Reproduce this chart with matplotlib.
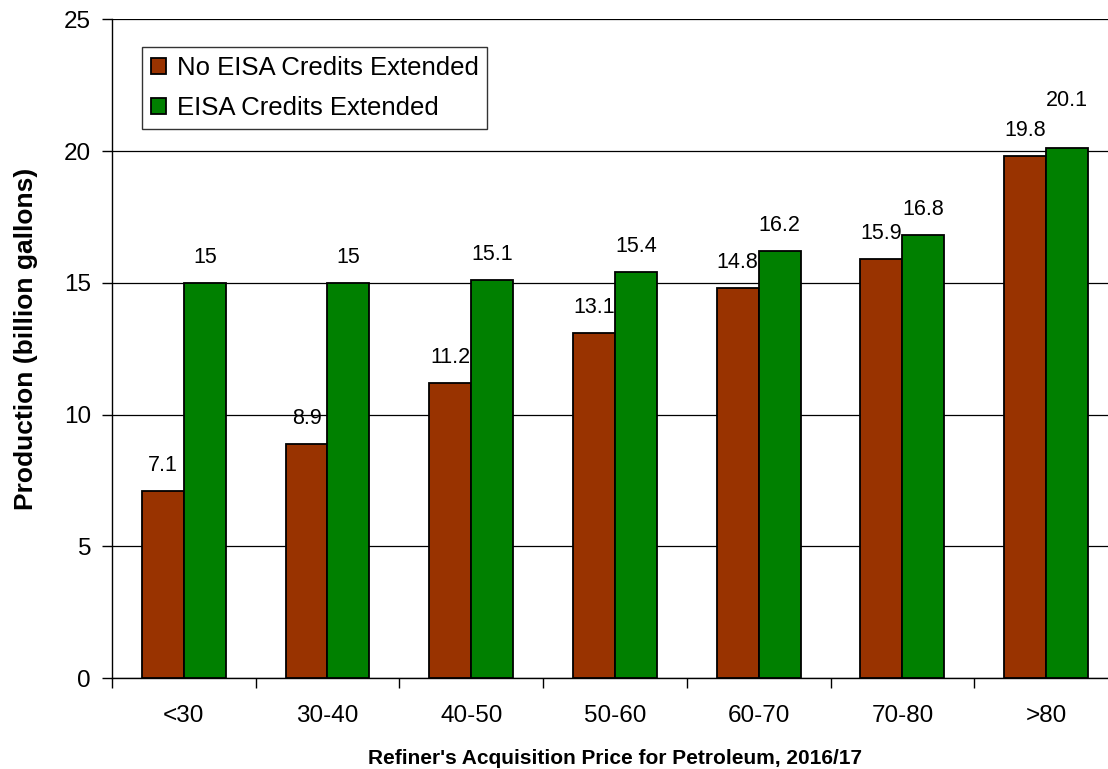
import matplotlib
matplotlib.use("Agg")
import matplotlib.pyplot as plt
import numpy as np

plt.rcParams['font.family'] = ['Liberation Sans', 'DejaVu Sans']

categories = ["<30", "30-40", "40-50", "50-60", "60-70", "70-80", ">80"]
no_credits = [7.1, 8.9, 11.2, 13.1, 14.8, 15.9, 19.8]
credits_ext = [15, 15, 15.1, 15.4, 16.2, 16.8, 20.1]
series_names = ["No EISA Credits Extended", "EISA Credits Extended"]

fig = plt.figure(figsize=(11.08, 7.69), dpi=100)
ax = fig.add_axes([0.101, 0.118, 0.908, 0.857])

x = np.arange(len(categories))
w = 0.292
b1 = ax.bar(x - w / 2, no_credits, w, color="#993300", edgecolor="black",
            linewidth=1.3, label=series_names[0], zorder=3)
b2 = ax.bar(x + w / 2, credits_ext, w, color="#008000", edgecolor="black",
            linewidth=1.3, label=series_names[1], zorder=3)

# value labels; lift the second one when the pair is too close to fit side by side
for i in range(len(categories)):
    a, b = no_credits[i], credits_ext[i]
    ax.annotate(f"{a:g}", (b1[i].get_x() + w / 2, a), xytext=(0, 14.4),
                textcoords="offset points", ha="center", va="baseline", fontsize=15.5)
    lift = 16 if abs(b - a) < 0.5 else 0
    ax.annotate(f"{b:g}", (b2[i].get_x() + w / 2, b), xytext=(0, 14.4 + lift),
                textcoords="offset points", ha="center", va="baseline", fontsize=15.5)

ax.set_xlim(-0.5, len(categories) - 0.5)
ax.set_ylim(0, 25)
ax.set_yticks(range(0, 26, 5))
ax.yaxis.grid(True, color="black", linewidth=0.9, zorder=0)
ax.set_axisbelow(True)

# group ticks sit between categories, labels centered under groups
ax.set_xticks(np.arange(-0.5, len(categories), 1.0))
ax.set_xticklabels([])
ax.set_xticks(x, minor=True)
ax.set_xticklabels(categories, minor=True, fontsize=17.5)
ax.tick_params(axis="x", which="minor", length=0, pad=19)
ax.tick_params(axis="x", which="major", length=7, direction="out", width=1)
ax.tick_params(axis="y", length=7, direction="out", width=1, labelsize=17.5, pad=8)

for s in ("top", "right"):
    ax.spines[s].set_visible(False)
ax.spines["left"].set_linewidth(1)
ax.spines["bottom"].set_linewidth(1)

ax.set_ylabel("Production (billion gallons)", fontsize=19, fontweight="bold")
ax.yaxis.set_label_coords(-0.073, 0.515)
ax.set_xlabel("Refiner's Acquisition Price for Petroleum, 2016/17", fontsize=15,
              fontweight="bold")
ax.xaxis.set_label_coords(0.5, -0.107)

leg = ax.legend(loc="upper left", bbox_to_anchor=(0.0298, 0.9575), fontsize=18.5,
                frameon=True, fancybox=False, edgecolor="black",
                handlelength=0.6, handleheight=0.6, handletextpad=0.4,
                borderpad=0.35, labelspacing=0.62, borderaxespad=0)
leg.get_frame().set_linewidth(1)

fig.savefig("out.png", dpi=100)
